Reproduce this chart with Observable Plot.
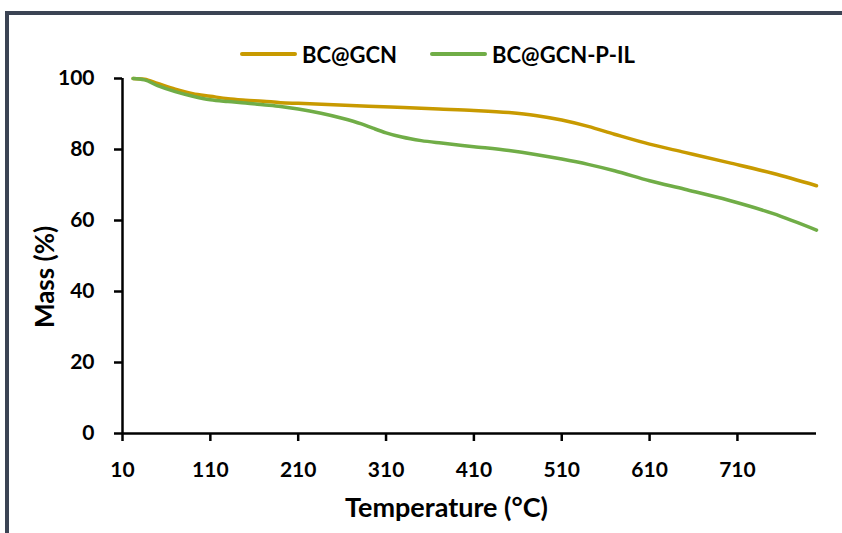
<!DOCTYPE html>
<html><head><meta charset="utf-8">
<script src="https://cdn.jsdelivr.net/npm/d3@7"></script>
<script src="https://cdn.jsdelivr.net/npm/@observablehq/plot@0.6"></script>
<style>
html,body{margin:0;padding:0;background:#fff;}
#wrap{position:relative;width:842px;height:533px;overflow:hidden;font-family:Lato,sans-serif;font-weight:bold;}
#frame{position:absolute;left:5px;top:11px;width:900px;height:600px;border-top:4px solid #3b4454;border-left:4px solid #3b4454;}
#legend{position:absolute;top:41px;left:240px;height:26px;display:flex;align-items:center;font-size:22px;color:#000;white-space:nowrap;}
.item{display:flex;align-items:center;margin-right:33px;}
.sw{width:57px;height:4px;margin-right:5px;border-radius:2px;}
svg{position:absolute;left:0;top:0;}
</style></head>
<body><div id="wrap"><div id="frame"></div><div id="legend"></div></div>
<script>
const seriesNames = ["BC@GCN", "BC@GCN-P-IL"];
const seriesColors = ["#c89a00", "#70ad47"];
const tempA = [22, 35, 50, 70, 90, 110, 130, 150, 170, 190, 210, 250, 290, 330, 370, 410, 450, 480, 510, 540, 570, 610, 650, 700, 750, 800];
const massA = [100, 99.8, 98.6, 97.0, 95.7, 95.0, 94.3, 93.9, 93.6, 93.2, 93.0, 92.6, 92.2, 91.8, 91.4, 91.0, 90.4, 89.6, 88.3, 86.5, 84.3, 81.5, 79.2, 76.3, 73.3, 69.8];
const tempB = [22, 35, 50, 70, 90, 110, 130, 150, 170, 190, 210, 236, 260, 282, 295, 310, 328, 350, 373, 410, 450, 480, 510, 540, 570, 610, 650, 700, 750, 800];
const massB = [100, 99.6, 98.0, 96.3, 95.0, 94.0, 93.5, 93.1, 92.6, 92.1, 91.4, 90.2, 88.8, 87.2, 86.0, 84.7, 83.5, 82.5, 81.8, 80.8, 79.7, 78.6, 77.3, 75.8, 74.0, 71.2, 68.8, 65.7, 62.0, 57.3];
const xTicks = [10, 110, 210, 310, 410, 510, 610, 710];
const yTicks = [0, 20, 40, 60, 80, 100];

const data = [
  ...tempA.map((t, i) => ({t, m: massA[i], s: seriesNames[0]})),
  ...tempB.map((t, i) => ({t, m: massB[i], s: seriesNames[1]}))
];

const chart = Plot.plot({
  width: 842, height: 533,
  marginLeft: 122, marginRight: 26, marginTop: 78, marginBottom: 100,
  style: {fontFamily: "Lato, sans-serif", fontWeight: "bold", fontSize: "21px", color: "#000", background: "transparent"},
  x: {domain: [10, 800], label: null},
  y: {domain: [0, 100], label: null},
  color: {domain: seriesNames, range: seriesColors},
  marks: [
    Plot.axisX({ticks: xTicks, tickSize: 8, tickPadding: 21, label: null, strokeWidth: 2.5, fontSize: 21}),
    Plot.axisY({ticks: yTicks, tickSize: 8, tickPadding: 20, label: null, strokeWidth: 2.5, fontSize: 21}),
    Plot.ruleX([10], {strokeWidth: 2.5}),
    Plot.ruleY([0], {strokeWidth: 2.5}),
    Plot.line(data, {x: "t", y: "m", z: "s", stroke: "s", strokeWidth: 3.5, curve: "monotone-x"}),
    Plot.text(["Temperature (°C)"], {frameAnchor: "bottom", textAnchor: "middle", dx: -23, dy: 83, fontSize: 27, fontWeight: "bold"}),
    Plot.text(["Mass (%)"], {frameAnchor: "left", textAnchor: "middle", lineAnchor: "middle", dx: -77, dy: 21, rotate: -90, fontSize: 26, fontWeight: "bold"})
  ]
});
document.getElementById("wrap").appendChild(chart);

const leg = document.getElementById("legend");
seriesNames.forEach((n, i) => {
  const it = document.createElement("div"); it.className = "item";
  const sw = document.createElement("div"); sw.className = "sw"; sw.style.background = seriesColors[i];
  const tx = document.createElement("span"); tx.textContent = n;
  it.appendChild(sw); it.appendChild(tx); leg.appendChild(it);
});
</script></body></html>
